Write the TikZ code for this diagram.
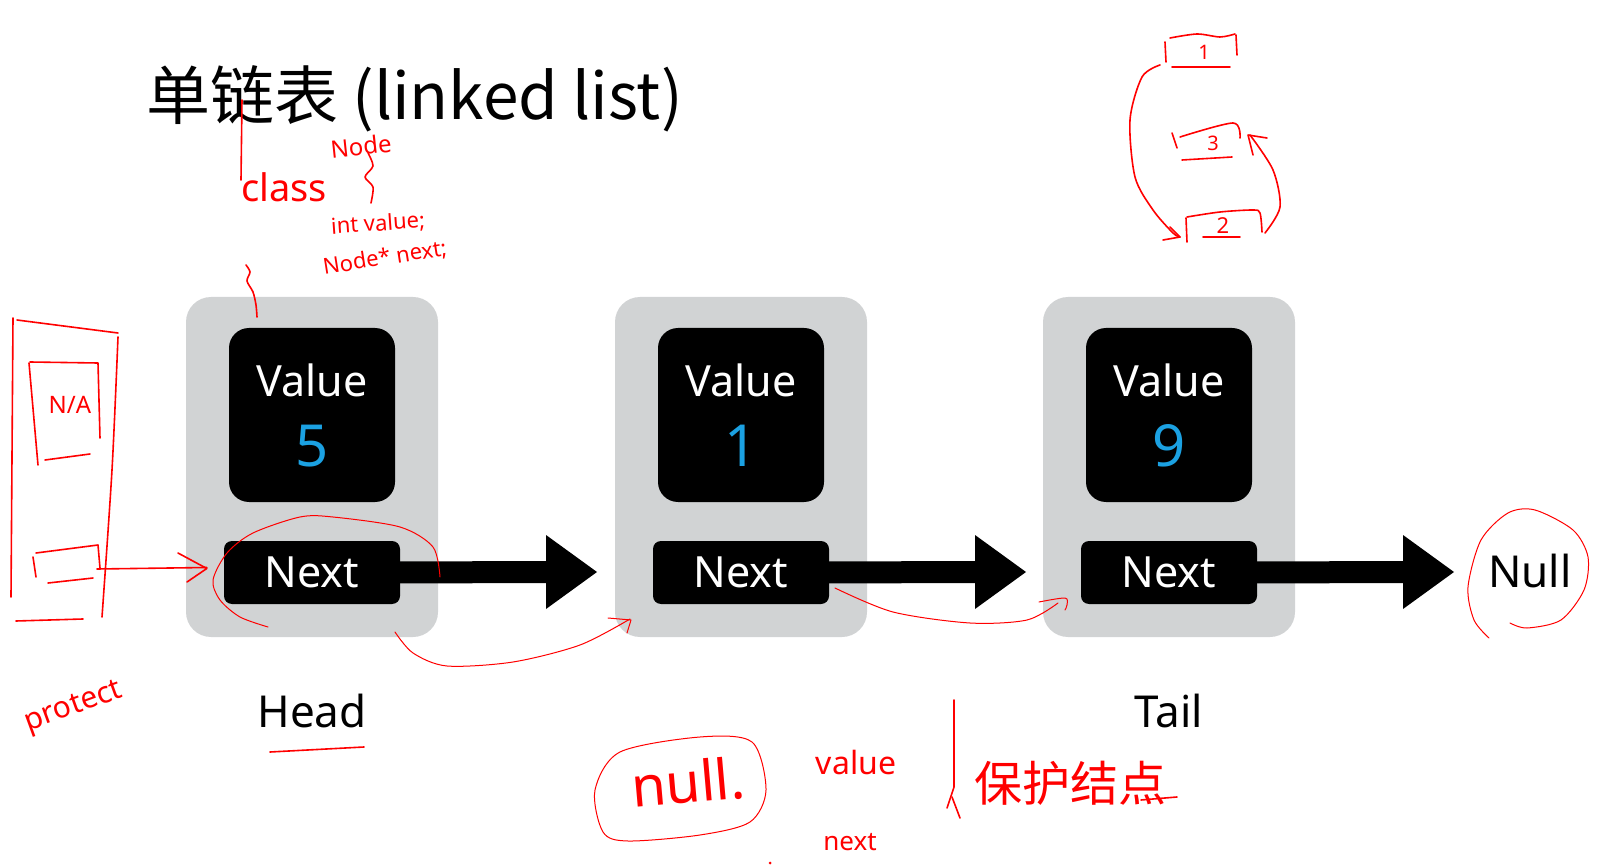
\documentclass[tikz,border=0pt]{standalone}
\usepackage{fontspec}
\setmainfont{Noto Sans}
\newfontfamily\cjk{Noto Sans CJK SC}
\usetikzlibrary{calc}
\definecolor{cellgrey}{RGB}{209,211,212}
\definecolor{digitblue}{RGB}{27,161,226}
\definecolor{inkred}{RGB}{255,0,0}

\begin{document}
\begin{tikzpicture}[x=1pt,y=-1pt,
  cell/.style={fill=cellgrey, rounded corners=25pt, minimum width=252pt, minimum height=340pt, inner sep=0pt},
  valbox/.style={fill=black, rounded corners=20pt, minimum width=166pt, minimum height=174pt, inner sep=0pt},
  nextbox/.style={fill=black, rounded corners=8pt, minimum width=176pt, minimum height=63pt, inner sep=0pt},
  whitetxt/.style={text=white, inner sep=0pt, font=\fontsize{43}{50}\selectfont},
  tag/.style={inner sep=0pt, font=\fontsize{44}{50}\selectfont},
  ink/.style={draw=inkred, line width=1.6pt, line cap=round, line join=round},
  thinink/.style={draw=inkred, line width=1pt, line cap=round, line join=round},
  scrawl/.style={text=inkred, inner sep=0pt}]
\useasboundingbox (0,0) rectangle (1599,866);

% title
\node[anchor=base west, inner sep=0pt, font=\cjk\fontsize{64}{70}\selectfont] (title) at (146,120) {单链表 (linked list)};

% the three list cells
\foreach \i/\v/\x in {1/5/312, 2/1/741, 3/9/1169}{
  \node[cell] (cell\i) at (\x,467) {};
  \node[valbox] (val\i) at (\x,415) {};
  \node[whitetxt, anchor=base] (lbl\i) at (\x,397) {Value};
  \node[text=digitblue, inner sep=0pt, anchor=base, font=\fontsize{58}{60}\selectfont] (num\i) at (\x,467) {\v};
  \node[nextbox] (next\i) at (\x,572.5) {};
  \node[whitetxt, anchor=base] (ntxt\i) at (\x,587) {Next};
  % pointer arrow
  \coordinate (tip\i) at (\x+285,572);
  \fill ($(next\i.east)+(-2,-11)$) -- (\x+234,561) -- (\x+234,535) -- (tip\i)
     -- (\x+234,609) -- (\x+234,583) -- ($(next\i.east)+(-2,11)$) -- cycle;
}
\node[tag, anchor=base] (null) at (1530,587) {Null};
\node[tag, anchor=base] (head) at (312,727) {Head};
\node[tag, anchor=base] (tail) at (1169,727) {Tail};

% red notes: class sketch
\draw[ink] (242,100) -- (241,180);
\node[scrawl, font=\fontsize{38}{40}\selectfont] (cls) at (284,187) {class};
\node[scrawl, rotate=6, font=\fontsize{24}{26}\selectfont] (nd) at (361,146) {Node};
\draw[ink] plot[smooth] coordinates {(368,153) (373,166) (365,177) (373,187) (371,203)};
\node[scrawl, rotate=4, font=\fontsize{22}{24}\selectfont] (intv) at (378,224) {int value;};
\node[scrawl, rotate=9, font=\fontsize{22}{24}\selectfont] (ndn) at (385,258) {Node* next;};
\draw[ink] plot[smooth] coordinates {(246,265) (250,272) (247,281) (253,292) (256,305) (257,317)};

% red notes: protected node
\draw[ink] (17,320) -- (118,333);
\draw[ink] (13,318) -- (11,597);
\draw[ink] plot[smooth] coordinates {(118,337) (112,470) (102,617)};
\draw[ink] (16,621) -- (83,619);
\draw[ink] (29,363) -- (38,465);
\draw[ink] (30,362) -- (98,363) -- (100,438);
\draw[ink] (45,460) -- (90,454);
\node[scrawl, font=\fontsize{24}{26}\selectfont] (na) at (70,405) {N/A};
\draw[ink] (33,557) -- (36,577);
\draw[ink] (36,553) -- (98,545) -- (100,568);
\draw[ink] (48,583) -- (93,578);
\draw[ink] (97,569) -- ($(next1.west)+(-17,-5)$);
\draw[ink] (178,553) -- ($(next1.west)+(-17,-4)$) -- (187,582);
\node[scrawl, rotate=20, font=\fontsize{30}{32}\selectfont] (prot) at (74,708) {protect};

% red notes: ring round the first Next and the links
\draw[thinink] plot[smooth] coordinates {(268,627) (240,617) (220,600) (213,580) (227,553) (253,533) (300,517) (333,517) (400,527) (433,547) (440,577)};
\draw[thinink] plot[smooth] coordinates {(395,632) (413,653) (447,666) (513,662) (580,645) (630,619)};
\draw[thinink] (608,618) -- (631,620) -- (627,633);
\draw[thinink] plot[smooth] coordinates {(835,588) (893,612) (970,623) (1027,620) (1058,603)};
\draw[thinink] plot[smooth] coordinates {(1039,602) (1065,598) (1067,605) (1065,610)};
\draw[thinink] plot[smooth] coordinates {(1510,623) (1527,628) (1561,620) (1584,590) (1588,557) (1573,530) (1535,510) (1508,513) (1481,540) (1468,587) (1474,620) (1489,638)};
\draw[ink] (270,752) -- (364,747);

% red notes: null bubble and words
\draw[thinink] plot[smooth cycle] coordinates {(603,832) (595,790) (620,752) (700,737) (752,742) (766,790) (750,822) (700,835) (628,841)};
\node[scrawl, rotate=5, font=\fontsize{56}{58}\selectfont] (nl) at (688,782) {null.};
\node[scrawl, font=\fontsize{32}{34}\selectfont] (vl) at (856,762) {value};
\node[scrawl, font=\fontsize{26}{28}\selectfont] (nx) at (850,842) {next};
\fill[inkred] (770,863) circle (1.5);
\draw[ink] (954,700) -- (954,787) -- (947,808);
\draw[ink] (952,797) -- (960,818);
\node[scrawl, font=\cjk\fontsize{48}{50}\selectfont] (bh) at (1070,783) {保护结点};
\draw[ink] (1141,800) -- (1177,797);

% red notes: reorder sketch
\draw[ink] (1165,42) -- (1166,62);
\draw[ink] plot[smooth] coordinates {(1170,38) (1197,34) (1220,37) (1235,34)};
\draw[ink] (1236,35) -- (1237,55);
\draw[ink] (1172,67) -- (1230,67);
\node[scrawl, font=\fontsize{20}{22}\selectfont] (b1) at (1204,52) {1};
\draw[ink] (1172,133) -- (1177,148);
\draw[ink] plot[smooth] coordinates {(1180,137) (1233,123) (1240,138)};
\draw[ink] (1182,160) -- (1232,157);
\node[scrawl, font=\fontsize{20}{22}\selectfont] (b3) at (1213,143) {3};
\draw[ink] (1186,218) -- (1187,242);
\draw[ink] plot[smooth] coordinates {(1187,217) (1220,212) (1253,210) (1260,213) (1262,232)};
\draw[ink] (1203,237) -- (1240,237);
\node[scrawl, font=\fontsize{22}{24}\selectfont] (b2) at (1223,226) {2};
\draw[ink] plot[smooth] coordinates {(1160,65) (1142,77) (1130,120) (1135,177) (1153,210) (1173,233) (1180,237)};
\draw[ink] (1170,227) -- (1180,237) -- (1163,240);
\draw[ink] plot[smooth] coordinates {(1265,233) (1280,207) (1273,170) (1250,135)};
\draw[ink] (1253,155) -- (1248,135) -- (1267,138);
\end{tikzpicture}
\end{document}
